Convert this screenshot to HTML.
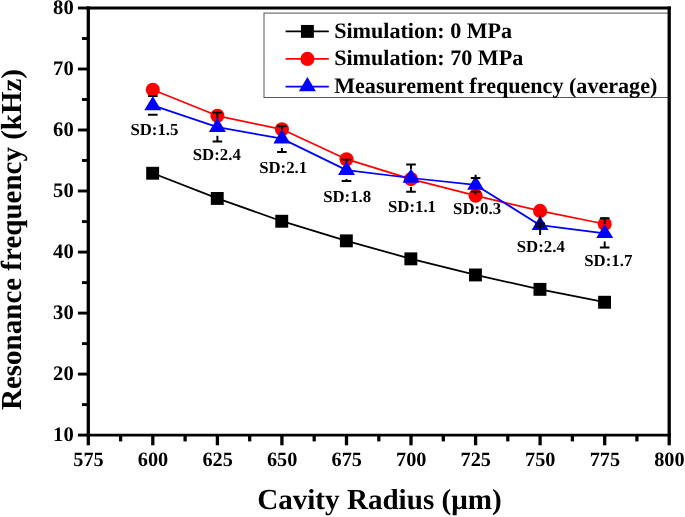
<!DOCTYPE html>
<html><head><meta charset="utf-8"><title>chart</title>
<style>
html,body{margin:0;padding:0;background:#fff;}
body{width:685px;height:517px;overflow:hidden;}
svg{display:block;filter:blur(0.35px);}
text{font-family:"Liberation Serif",serif;font-weight:bold;fill:#000;text-rendering:geometricPrecision;}
</style></head><body>
<svg width="685" height="517" viewBox="0 0 685 517">
<rect width="685" height="517" fill="#fff"/>

<rect x="264.0" y="13.1" width="405.2" height="84.4" fill="#fff" stroke="#555" stroke-width="1"/>
<path d="M86.65 8.0H670.85M86.65 435.1H670.85" fill="none" stroke="#000" stroke-width="2.9"/>
<path d="M88.3 6.55V436.55M669.2 6.55V436.55" fill="none" stroke="#000" stroke-width="3.3"/>
<line x1="77.9" y1="435.1" x2="88.3" y2="435.1" stroke="#000" stroke-width="2.9"/>
<text x="73.7" y="441.4" font-size="20.6" text-anchor="end">10</text>
<line x1="82.0" y1="404.6" x2="88.3" y2="404.6" stroke="#000" stroke-width="2.9"/>
<line x1="77.9" y1="374.1" x2="88.3" y2="374.1" stroke="#000" stroke-width="2.9"/>
<text x="73.7" y="380.4" font-size="20.6" text-anchor="end">20</text>
<line x1="82.0" y1="343.6" x2="88.3" y2="343.6" stroke="#000" stroke-width="2.9"/>
<line x1="77.9" y1="313.1" x2="88.3" y2="313.1" stroke="#000" stroke-width="2.9"/>
<text x="73.7" y="319.4" font-size="20.6" text-anchor="end">30</text>
<line x1="82.0" y1="282.6" x2="88.3" y2="282.6" stroke="#000" stroke-width="2.9"/>
<line x1="77.9" y1="252.1" x2="88.3" y2="252.1" stroke="#000" stroke-width="2.9"/>
<text x="73.7" y="258.4" font-size="20.6" text-anchor="end">40</text>
<line x1="82.0" y1="221.6" x2="88.3" y2="221.6" stroke="#000" stroke-width="2.9"/>
<line x1="77.9" y1="191.0" x2="88.3" y2="191.0" stroke="#000" stroke-width="2.9"/>
<text x="73.7" y="197.3" font-size="20.6" text-anchor="end">50</text>
<line x1="82.0" y1="160.5" x2="88.3" y2="160.5" stroke="#000" stroke-width="2.9"/>
<line x1="77.9" y1="130.0" x2="88.3" y2="130.0" stroke="#000" stroke-width="2.9"/>
<text x="73.7" y="136.3" font-size="20.6" text-anchor="end">60</text>
<line x1="82.0" y1="99.5" x2="88.3" y2="99.5" stroke="#000" stroke-width="2.9"/>
<line x1="77.9" y1="69.0" x2="88.3" y2="69.0" stroke="#000" stroke-width="2.9"/>
<text x="73.7" y="75.3" font-size="20.6" text-anchor="end">70</text>
<line x1="82.0" y1="38.5" x2="88.3" y2="38.5" stroke="#000" stroke-width="2.9"/>
<line x1="77.9" y1="8.0" x2="88.3" y2="8.0" stroke="#000" stroke-width="2.9"/>
<text x="73.7" y="14.3" font-size="20.6" text-anchor="end">80</text>
<line x1="88.3" y1="435.1" x2="88.3" y2="445.3" stroke="#000" stroke-width="3.3"/>
<text x="88.5" y="465.6" font-size="20.3" text-anchor="middle">575</text>
<line x1="120.6" y1="435.1" x2="120.6" y2="441.4" stroke="#000" stroke-width="3.3"/>
<line x1="152.8" y1="435.1" x2="152.8" y2="445.3" stroke="#000" stroke-width="3.3"/>
<text x="153.0" y="465.6" font-size="20.3" text-anchor="middle">600</text>
<line x1="185.1" y1="435.1" x2="185.1" y2="441.4" stroke="#000" stroke-width="3.3"/>
<line x1="217.4" y1="435.1" x2="217.4" y2="445.3" stroke="#000" stroke-width="3.3"/>
<text x="217.6" y="465.6" font-size="20.3" text-anchor="middle">625</text>
<line x1="249.7" y1="435.1" x2="249.7" y2="441.4" stroke="#000" stroke-width="3.3"/>
<line x1="281.9" y1="435.1" x2="281.9" y2="445.3" stroke="#000" stroke-width="3.3"/>
<text x="282.1" y="465.6" font-size="20.3" text-anchor="middle">650</text>
<line x1="314.2" y1="435.1" x2="314.2" y2="441.4" stroke="#000" stroke-width="3.3"/>
<line x1="346.5" y1="435.1" x2="346.5" y2="445.3" stroke="#000" stroke-width="3.3"/>
<text x="346.7" y="465.6" font-size="20.3" text-anchor="middle">675</text>
<line x1="378.8" y1="435.1" x2="378.8" y2="441.4" stroke="#000" stroke-width="3.3"/>
<line x1="411.0" y1="435.1" x2="411.0" y2="445.3" stroke="#000" stroke-width="3.3"/>
<text x="411.2" y="465.6" font-size="20.3" text-anchor="middle">700</text>
<line x1="443.3" y1="435.1" x2="443.3" y2="441.4" stroke="#000" stroke-width="3.3"/>
<line x1="475.6" y1="435.1" x2="475.6" y2="445.3" stroke="#000" stroke-width="3.3"/>
<text x="475.8" y="465.6" font-size="20.3" text-anchor="middle">725</text>
<line x1="507.8" y1="435.1" x2="507.8" y2="441.4" stroke="#000" stroke-width="3.3"/>
<line x1="540.1" y1="435.1" x2="540.1" y2="445.3" stroke="#000" stroke-width="3.3"/>
<text x="540.3" y="465.6" font-size="20.3" text-anchor="middle">750</text>
<line x1="572.4" y1="435.1" x2="572.4" y2="441.4" stroke="#000" stroke-width="3.3"/>
<line x1="604.7" y1="435.1" x2="604.7" y2="445.3" stroke="#000" stroke-width="3.3"/>
<text x="604.9" y="465.6" font-size="20.3" text-anchor="middle">775</text>
<line x1="636.9" y1="435.1" x2="636.9" y2="441.4" stroke="#000" stroke-width="3.3"/>
<line x1="669.2" y1="435.1" x2="669.2" y2="445.3" stroke="#000" stroke-width="3.3"/>
<text x="669.4" y="465.6" font-size="20.3" text-anchor="middle">800</text>
<text x="379.4" y="508.7" font-size="29" text-anchor="middle" textLength="244.4" lengthAdjust="spacingAndGlyphs">Cavity Radius (μm)</text>
<text transform="translate(20.8,239.5) rotate(-90)" font-size="29" text-anchor="middle" textLength="341" lengthAdjust="spacingAndGlyphs">Resonance frequency (kHz)</text>
<polyline points="152.8,173.2 217.4,198.4 281.9,221.2 346.5,240.8 411.0,258.8 475.6,274.9 540.1,289.3 604.7,302.2" fill="none" stroke="#000" stroke-width="1.75" stroke-linejoin="round"/>
<rect x="146.2" y="166.8" width="12.9" height="12.9" fill="#000"/>
<rect x="210.8" y="192.0" width="12.9" height="12.9" fill="#000"/>
<rect x="275.3" y="214.8" width="12.9" height="12.9" fill="#000"/>
<rect x="339.9" y="234.4" width="12.9" height="12.9" fill="#000"/>
<rect x="404.4" y="252.4" width="12.9" height="12.9" fill="#000"/>
<rect x="469.0" y="268.5" width="12.9" height="12.9" fill="#000"/>
<rect x="533.5" y="282.9" width="12.9" height="12.9" fill="#000"/>
<rect x="598.1" y="295.8" width="12.9" height="12.9" fill="#000"/>
<polyline points="152.8,89.8 217.4,115.8 281.9,129.3 346.5,159.2 411.0,179.1 475.6,195.7 540.1,210.9 604.7,224.0" fill="none" stroke="#ff0000" stroke-width="1.75" stroke-linejoin="round"/>
<circle cx="152.8" cy="89.8" r="7.05" fill="#ff0000"/>
<circle cx="217.4" cy="115.8" r="7.05" fill="#ff0000"/>
<circle cx="281.9" cy="129.3" r="7.05" fill="#ff0000"/>
<circle cx="346.5" cy="159.2" r="7.05" fill="#ff0000"/>
<circle cx="411.0" cy="179.1" r="7.05" fill="#ff0000"/>
<circle cx="475.6" cy="195.7" r="7.05" fill="#ff0000"/>
<circle cx="540.1" cy="210.9" r="7.05" fill="#ff0000"/>
<circle cx="604.7" cy="224.0" r="7.05" fill="#ff0000"/>
<polyline points="152.8,105.4 217.4,127.2 281.9,138.6 346.5,170.1 411.0,178.0 475.6,184.9 540.1,225.2 604.7,233.3" fill="none" stroke="#0000ff" stroke-width="1.75" stroke-linejoin="round"/>
<path d="M152.8 96.1V96.7M152.8 114.2V114.8M148.0 96.1H157.6M148.0 114.8H157.6" stroke="#000" stroke-width="1.95" fill="none"/>
<path d="M217.4 112.6V118.2M217.4 135.8V141.5M212.6 112.6H222.2M212.6 141.5H222.2" stroke="#000" stroke-width="1.95" fill="none"/>
<path d="M281.9 126.3V130.4M281.9 148.0V152.0M277.1 126.3H286.7M277.1 152.0H286.7" stroke="#000" stroke-width="1.95" fill="none"/>
<path d="M346.5 159.6V161.4M346.5 179.1V180.9M341.7 159.6H351.3M341.7 180.9H351.3" stroke="#000" stroke-width="1.95" fill="none"/>
<path d="M411.0 164.5V169.3M411.0 186.9V191.7M406.2 164.5H415.8M406.2 191.7H415.8" stroke="#000" stroke-width="1.95" fill="none"/>
<path d="M604.7 218.2V224.0M604.7 241.6V247.4M599.9 218.2H609.5M599.9 247.4H609.5" stroke="#000" stroke-width="1.95" fill="none"/>
<path d="M152.8 96.0L161.3 110.2H144.3Z" fill="#0000ff"/>
<path d="M217.4 117.8L225.9 132.0H208.9Z" fill="#0000ff"/>
<path d="M281.9 129.2L290.4 143.4H273.4Z" fill="#0000ff"/>
<path d="M346.5 160.7L355.0 174.9H338.0Z" fill="#0000ff"/>
<path d="M411.0 168.6L419.5 182.8H402.5Z" fill="#0000ff"/>
<path d="M475.6 175.5L484.1 189.7H467.1Z" fill="#0000ff"/>
<path d="M540.1 215.8L548.6 230.0H531.6Z" fill="#0000ff"/>
<path d="M604.7 223.9L613.2 238.1H596.2Z" fill="#0000ff"/>
<path d="M475.6 174.8V177.9M475.6 191.6V194.6M470.8 177.9H480.4M470.8 191.6H480.4" stroke="#000" stroke-width="1.95" fill="none"/>
<path d="M540.1 215.8V235.0M535.3 223.5H544.9M535.3 226.4H544.9" stroke="#000" stroke-width="1.95" fill="none"/>
<text x="154.4" y="135.2" font-size="16.8" text-anchor="middle">SD:1.5</text>
<text x="216.8" y="160.1" font-size="16.8" text-anchor="middle">SD:2.4</text>
<text x="283.2" y="172.7" font-size="16.8" text-anchor="middle">SD:2.1</text>
<text x="347.2" y="202.4" font-size="16.8" text-anchor="middle">SD:1.8</text>
<text x="412" y="211.5" font-size="16.8" text-anchor="middle">SD:1.1</text>
<text x="477.1" y="213.6" font-size="16.8" text-anchor="middle">SD:0.3</text>
<text x="540.8" y="251.5" font-size="16.8" text-anchor="middle">SD:2.4</text>
<text x="608.3" y="265.6" font-size="16.8" text-anchor="middle">SD:1.7</text>
<line x1="285.6" y1="31.35" x2="328.8" y2="31.35" stroke="#000" stroke-width="1.75"/>
<rect x="300.95" y="24.95" width="12.9" height="12.9" fill="#000"/>
<line x1="285.6" y1="58.9" x2="328.8" y2="58.9" stroke="#ff0000" stroke-width="1.75"/>
<circle cx="307.4" cy="58.9" r="7.05" fill="#ff0000"/>
<line x1="285.6" y1="86.5" x2="328.8" y2="86.5" stroke="#0000ff" stroke-width="1.75"/>
<path d="M307.4 77.1L315.9 91.3H298.9Z" fill="#0000ff"/>
<text x="334.2" y="37.6" font-size="22.1">Simulation: 0 MPa</text>
<text x="334.2" y="65.3" font-size="22.1">Simulation: 70 MPa</text>
<text x="334.2" y="93.4" font-size="22.1">Measurement frequency (average)</text>
</svg></body></html>
